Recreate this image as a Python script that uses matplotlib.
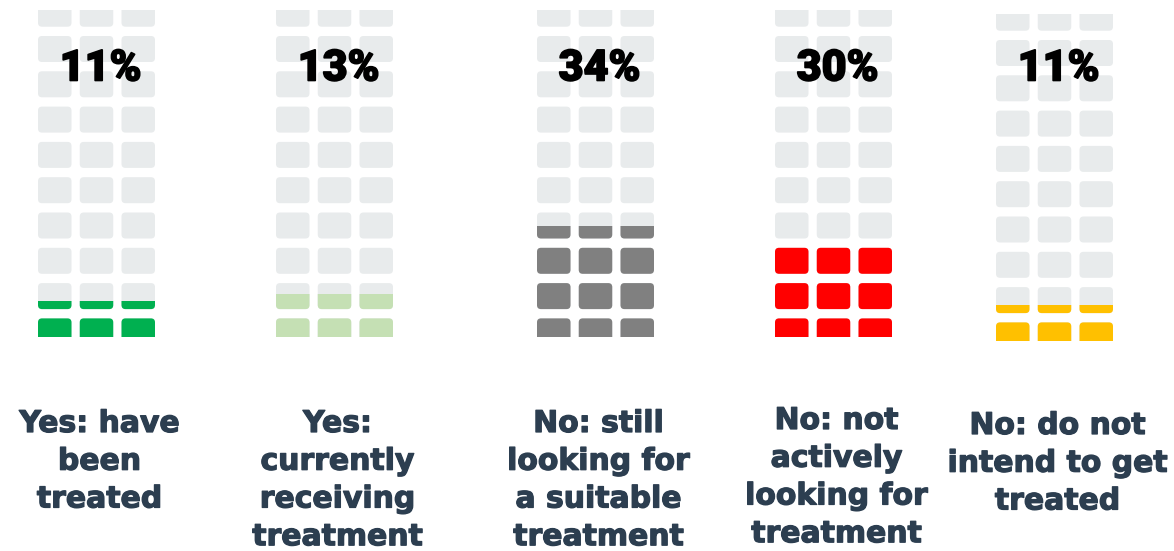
import matplotlib.pyplot as plt
import matplotlib.patheffects as pe
from matplotlib.patches import FancyBboxPatch, Rectangle

# Share of respondents per treatment status
categories = [
    "Yes: have\nbeen\ntreated",
    "Yes:\ncurrently\nreceiving\ntreatment",
    "No: still\nlooking for\na suitable\ntreatment",
    "No: not\nactively\nlooking for\ntreatment",
    "No: do not\nintend to get\ntreated",
]
percentages = [11, 13, 34, 30, 11]
fill_colors = ["#00B050", "#C5E0B4", "#808080", "#FF0000", "#FFC000"]

EMPTY = "#E8EBEC"
TEXT = "#2C3E50"

# Layout, in pixels (axes spans the whole canvas)
W, H = 1174, 551
col_left = [38, 276, 537, 775, 996]
col_bottom = [337, 337, 337, 337, 341]
label_top = [409, 409, 409, 406, 411]
win_h = 327          # visible height of each icon column
cell_w, cell_gap = 33.5, 8.25
cell_h, row_pitch = 26, 35.3
row_offset = 18.6    # top of bottom row above window bottom
n_rows, n_cols = 10, 3

fig = plt.figure(figsize=(W / 100, H / 100), dpi=100)
ax = fig.add_axes([0, 0, 1, 1])
ax.set_xlim(0, W)
ax.set_ylim(H, 0)
ax.axis("off")


def draw_cells(x0, bottom, color, clip_top, clip_h):
    clip = Rectangle((x0 - 2, clip_top), 3 * cell_w + 2 * cell_gap + 4, clip_h,
                     transform=ax.transData, facecolor="none", edgecolor="none")
    ax.add_patch(clip)
    for r in range(n_rows):
        top = bottom - (row_offset + r * row_pitch)
        for c in range(n_cols):
            x = x0 + c * (cell_w + cell_gap)
            p = FancyBboxPatch((x, top), cell_w, cell_h,
                               boxstyle="round,pad=0,rounding_size=4",
                               facecolor=color, edgecolor="none")
            ax.add_patch(p)
            p.set_clip_path(clip)


for i, (cat, pct, color) in enumerate(zip(categories, percentages, fill_colors)):
    x0, bottom = col_left[i], col_bottom[i]
    # grey background grid, then coloured part up to pct of the column height
    draw_cells(x0, bottom, EMPTY, bottom - win_h, win_h)
    fill_h = pct / 100 * win_h
    draw_cells(x0, bottom, color, bottom - fill_h, fill_h)

    cx = x0 + (3 * cell_w + 2 * cell_gap) / 2
    ax.text(cx + 4, 69, f"{pct}%", ha="center", va="center",
            fontsize=31, fontweight="black", family="Roboto", color="black",
            path_effects=[pe.withStroke(linewidth=1.2, foreground="black")])
    ax.text(cx + 3, label_top[i], cat, ha="center", va="top",
            multialignment="center", fontsize=21.5, fontweight="bold",
            family="DejaVu Sans", color=TEXT, linespacing=1.38,
            path_effects=[pe.withStroke(linewidth=0.9, foreground=TEXT)])

fig.savefig("out.png", dpi=100)
